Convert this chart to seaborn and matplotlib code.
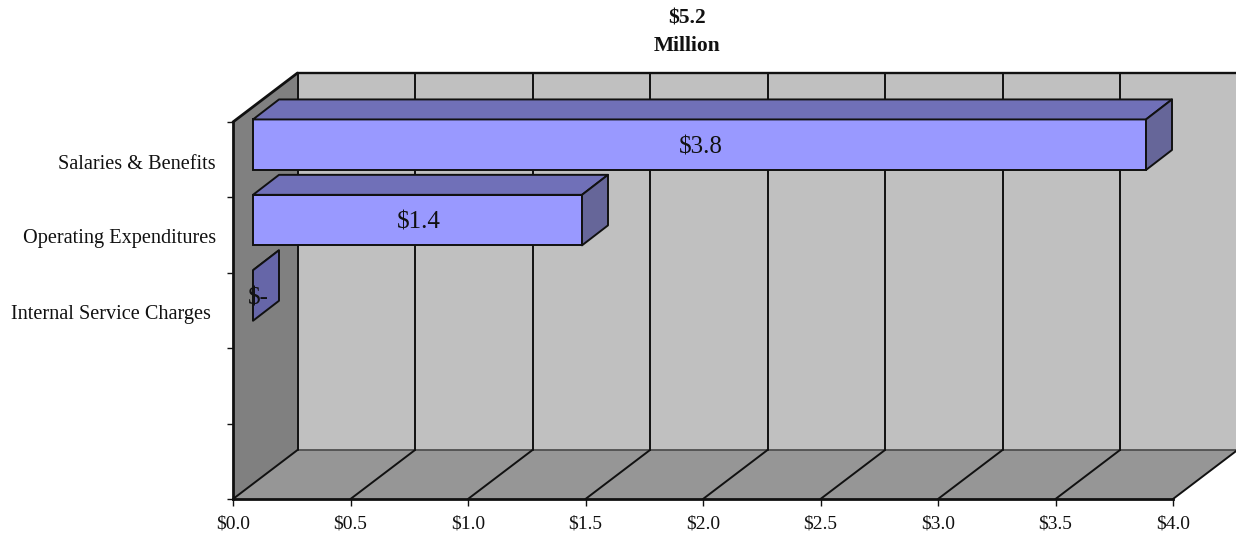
import matplotlib
matplotlib.use("Agg")
import matplotlib.pyplot as plt
from matplotlib.colors import to_rgb
from matplotlib.patches import Polygon
from matplotlib.transforms import ScaledTranslation
import pandas as pd
import seaborn as sns

categories = ["Salaries & Benefits", "Operating Expenditures", "Internal Service Charges"]
values = [3.8, 1.4, 0.0]
value_labels = ["$3.8", "$1.4", "$-"]
x_ticks = [0.0, 0.5, 1.0, 1.5, 2.0, 2.5, 3.0, 3.5, 4.0]
title_lines = "$5.2\nMillion"

sns.set_style("white")
plt.rcParams["font.family"] = ["Liberation Serif", "DejaVu Serif"]

W, H = 1236, 533
fig = plt.figure(figsize=(W / 100, H / 100), dpi=100)
ax = fig.add_axes([233 / W, (H - 499) / H, 940 / W, 377 / H])

df = pd.DataFrame({"cat": categories, "val": values})
sns.barplot(data=df, x="val", y="cat", orient="h", color="#9999FF", saturation=1,
            width=0.67, edgecolor="#111111", linewidth=1.4, ax=ax, zorder=3)
bars = [p for p in ax.patches if p.get_facecolor()[:3] == to_rgb("#9999FF")]

XMAX = 4.0
TOP, BOT = -0.5, 4.5
ax.set_xlim(0, XMAX)
ax.set_ylim(BOT, TOP)
px_x = XMAX / 940
px_y = 5 / 377
DX, DY = 64.5 * px_x, 49 * px_y       # depth of the box
BX, BY = 26 * px_x, 20 * px_y         # depth of a bar
SX, SY = 20 * px_x, 15 * px_y         # bar offset from the front plane

edge = "#111111"
def poly(pts, fc, z, ec="none", lw=0):
    ax.add_patch(Polygon(pts, closed=True, fc=fc, ec=ec, lw=lw, zorder=z, clip_on=False,
                         joinstyle="round"))

# walls and floor
poly([(DX, TOP - DY), (XMAX + DX, TOP - DY), (XMAX + DX, BOT - DY), (DX, BOT - DY)], "#C0C0C0", 0.5)
poly([(0, TOP), (DX, TOP - DY), (DX, BOT - DY), (0, BOT)], "#808080", 0.6)
poly([(0, BOT), (XMAX, BOT), (XMAX + DX, BOT - DY), (DX, BOT - DY)], "#969696", 0.6)

def line(xs, ys, lw=1.4, c=edge, z=1):
    ax.plot(xs, ys, color=c, lw=lw, zorder=z, clip_on=False, solid_capstyle="round")

line([DX, XMAX + DX], [TOP - DY, TOP - DY], lw=1.7)
line([0, DX], [TOP, TOP - DY], lw=2.0)
line([DX, XMAX + DX], [BOT - DY, BOT - DY], lw=1.3, c="#505050")
for xv in x_ticks:
    line([xv, xv + DX], [BOT, BOT - DY], lw=1.4)
    if xv < XMAX:
        line([xv + DX, xv + DX], [BOT - DY, TOP - DY], lw=1.4)

# bars: shift into depth and add the top and side faces
for patch, label in zip(bars, value_labels):
    patch.set_x(patch.get_x() + SX)
    patch.set_y(patch.get_y() - SY)
    patch.set_clip_on(False)
    x0, y0, w, h = patch.get_x(), patch.get_y(), patch.get_width(), patch.get_height()
    poly([(x0, y0), (x0 + w, y0), (x0 + w + BX, y0 - BY), (x0 + BX, y0 - BY)], "#7070B8", 3.1, edge, 1.4)
    poly([(x0 + w, y0), (x0 + w + BX, y0 - BY), (x0 + w + BX, y0 + h - BY), (x0 + w, y0 + h)],
         "#666699" if w > 0 else "#6666A8", 3.1, edge, 1.4)
    tx = x0 + w / 2 + px_x if w > 0 else x0 + 5 * px_x
    ax.text(tx, y0 + h / 2 + 2.5 * px_y, label, ha="center", va="center",
            fontsize=18, color="#111111", zorder=5)

for s in ["top", "right"]:
    ax.spines[s].set_visible(False)
for s in ["left", "bottom"]:
    ax.spines[s].set_color(edge)
    ax.spines[s].set_linewidth(2.0)
    ax.spines[s].set_zorder(2.5)

ax.set_xlabel("")
ax.set_ylabel("")
ax.set_xticks(x_ticks, [f"${v:.1f}" for v in x_ticks], fontsize=14, color="#111111")
ax.tick_params(axis="x", which="major", bottom=True, length=5, width=1, color=edge, pad=7)
ax.set_yticks([-0.5, 0.5, 1.5, 2.5, 3.5, 4.5], [""] * 6)
ax.set_yticks([0, 1, 2], categories, minor=True, fontsize=14.6, color="#111111")
ax.tick_params(axis="y", which="major", left=True, length=4.5, width=1, color=edge)
ax.tick_params(axis="y", which="minor", left=False, length=0, pad=12.2)
ylabels = ax.get_yticklabels(minor=True)
for lab, dy in zip(ylabels, [-1.5, -1.0, -1.0]):
    lab.set_transform(lab.get_transform() + ScaledTranslation(0, dy / 72, fig.dpi_scale_trans))
ylabels[2].set_transform(ylabels[2].get_transform() + ScaledTranslation(-3.6 / 72, 0, fig.dpi_scale_trans))

fig.text(687 / W, 1 - 32 / H, title_lines, ha="center", va="center", fontsize=15.5,
         fontweight="bold", color="#111111", linespacing=1.5)
fig.savefig("out.png", dpi=100, facecolor="white")
